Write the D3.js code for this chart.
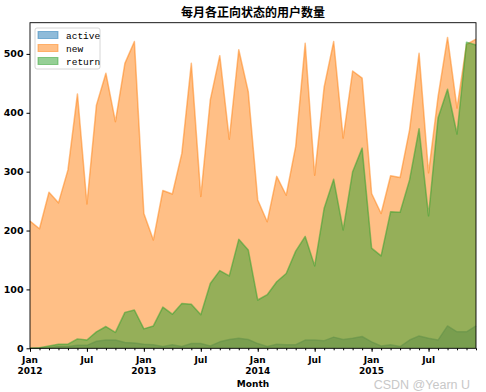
<!DOCTYPE html>
<html><head><meta charset="utf-8">
<script src="https://cdn.jsdelivr.net/npm/d3@7"></script>
<style>
html,body{margin:0;padding:0;background:#fff;}
svg text{font-family:"Noto Sans CJK SC","Noto Sans",sans-serif;}
</style></head>
<body><svg id="c" width="486" height="392"></svg>
<script>
const months = ["2012-01","2012-02","2012-03","2012-04","2012-05","2012-06","2012-07","2012-08","2012-09","2012-10","2012-11","2012-12",
"2013-01","2013-02","2013-03","2013-04","2013-05","2013-06","2013-07","2013-08","2013-09","2013-10","2013-11","2013-12",
"2014-01","2014-02","2014-03","2014-04","2014-05","2014-06","2014-07","2014-08","2014-09","2014-10","2014-11","2014-12",
"2015-01","2015-02","2015-03","2015-04","2015-05","2015-06","2015-07","2015-08","2015-09","2015-10","2015-11","2015-12"];
const activeVals = [0,0,1,3,3,5,5,12,14,14,10,9,7,6,3,6,3,8,8,4,11,15,17,15,8,3,7,6,6,14,14,13,19,15,17,20,11,4,6,3,14,21,17,14,38,28,28,38];
const newVals = [216,203,265,247,303,432,245,413,467,385,484,521,229,184,268,262,331,484,258,422,497,355,507,436,252,215,292,260,343,518,294,444,521,357,471,459,263,229,293,290,371,501,298,427,528,408,516,525];
const returnVals = [0,1,4,7,7,16,14,28,37,27,61,65,33,38,70,58,76,75,57,110,132,123,185,167,82,91,113,127,165,190,140,238,287,201,300,340,170,157,232,231,286,373,225,391,440,364,520,515];
const seriesNames = ["active","new","return"];
const seriesColors = ["#1f77b4","#ff7f0e","#2ca02c"];
const yTicks = [0,100,200,300,400,500];
const majorTickMonths = ["2012-01","2012-07","2013-01","2013-07","2014-01","2014-07","2015-01","2015-07"];
const majorTickLabels = [["Jan","2012"],["Jul"],["Jan","2013"],["Jul"],["Jan","2014"],["Jul"],["Jan","2015"],["Jul"]];
const title = "每月各正向状态的用户数量";
const xLabel = "Month";

const svg = d3.select("#c");
const L=30, R=476, T=22.7, B=348.3;
const x = d3.scalePoint().domain(months).range([L,R]).padding(0);
const y = d3.scaleLinear().domain([0,553]).range([B,T]);
const series = [activeVals,newVals,returnVals];
const tickFont = "'DejaVu Sans','Liberation Sans',sans-serif";

const area = d3.area().x((d,i)=>x(months[i])).y0(y(0)).y1(d=>y(d));
const line = d3.line().x((d,i)=>x(months[i])).y(d=>y(d));
series.forEach((vals,k)=>{
  svg.append("path").attr("d",area(vals)).attr("fill",seriesColors[k]).attr("fill-opacity",0.5);
  svg.append("path").attr("d",line(vals)).attr("fill","none").attr("stroke",seriesColors[k]).attr("stroke-opacity",0.5).attr("stroke-width",1.5).attr("stroke-linejoin","round");
});

// frame
svg.append("rect").attr("x",L).attr("y",T).attr("width",R-L).attr("height",B-T).attr("fill","none").attr("stroke","#000").attr("stroke-width",0.9);

// y axis
const yAx = svg.append("g").attr("transform",`translate(${L},0)`).call(d3.axisLeft(y).tickValues(yTicks).tickSize(3.5).tickPadding(3).tickFormat(d3.format("d")));
yAx.select(".domain").remove();
yAx.selectAll("text").attr("font-size",9.5).attr("font-weight","bold").attr("fill","#000").style("font-family",tickFont);
yAx.selectAll("line").attr("stroke","#000");

// x minor ticks
const xMinor = svg.append("g").attr("transform",`translate(0,${B})`).call(d3.axisBottom(x).tickValues(months).tickSize(2).tickFormat(""));
xMinor.select(".domain").remove();
xMinor.selectAll("line").attr("stroke","#000");
// major ticks
const xMajor = svg.append("g").attr("transform",`translate(0,${B})`).call(d3.axisBottom(x).tickValues(majorTickMonths).tickSize(3.5).tickFormat(""));
xMajor.select(".domain").remove();
xMajor.selectAll("line").attr("stroke","#000");
majorTickMonths.forEach((m,i)=>{
  majorTickLabels[i].forEach((s,j)=>{
    svg.append("text").attr("x",x(m)).attr("y",B+15+j*11).attr("text-anchor","middle")
      .attr("font-size",9).attr("font-weight","bold").style("font-family",tickFont).text(s);
  });
});
svg.append("text").attr("x",(L+R)/2).attr("y",387).attr("text-anchor","middle").attr("font-size",9).attr("font-weight","bold").style("font-family",tickFont).text(xLabel);

// title
svg.append("text").attr("x",(L+R)/2).attr("y",17).attr("text-anchor","middle").attr("font-size",12).attr("font-weight","bold").text(title);

// legend
const lg = svg.append("g");
lg.append("rect").attr("x",35).attr("y",28).attr("width",65).attr("height",41).attr("rx",2).attr("fill","#fff").attr("fill-opacity",0.8).attr("stroke","#ccc").attr("stroke-width",0.8);
seriesNames.forEach((n,k)=>{
  const yy = 35 + k*13;
  lg.append("rect").attr("x",38).attr("y",yy-3.5).attr("width",20).attr("height",7).attr("fill",seriesColors[k]).attr("fill-opacity",0.5).attr("stroke",seriesColors[k]).attr("stroke-opacity",0.5);
  lg.append("text").attr("x",66).attr("y",yy+3.5).attr("font-size",9.5).style("font-family","'Liberation Mono','DejaVu Sans Mono',monospace").text(n);
});

// watermark
svg.append("text").attr("x",470).attr("y",389).attr("text-anchor","end").attr("font-size",12.5).attr("fill","#c8c8c8").style("font-family","'Liberation Sans',Arial,sans-serif").text("CSDN @Yearn U");
</script></body></html>
